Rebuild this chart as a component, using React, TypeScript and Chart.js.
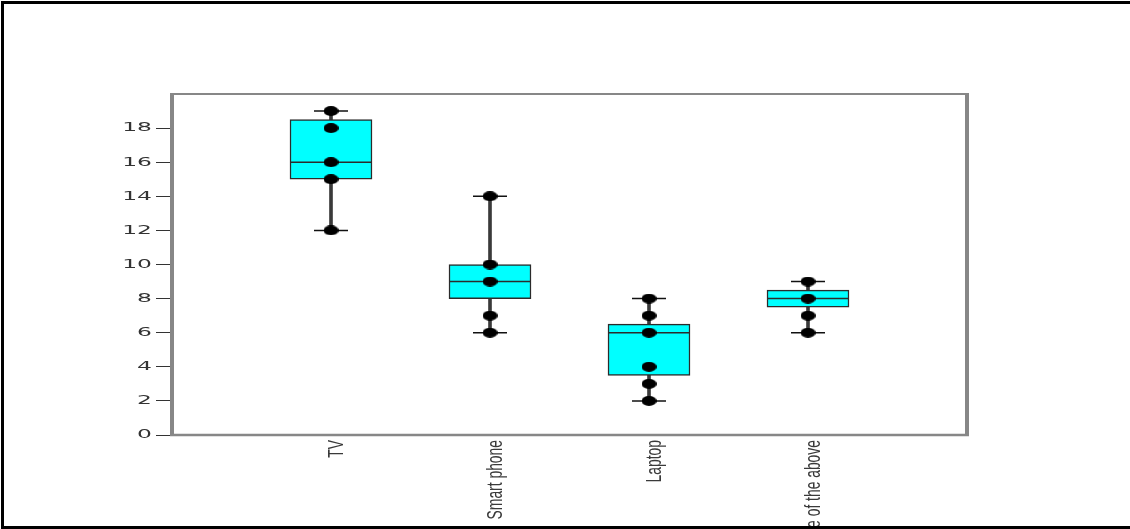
import React, { useEffect, useRef } from 'react';
import { Chart, registerables, LinearScale, CategoryScale } from 'chart.js';

// ---- data ----
const categories = ['TV', 'Smart phone', 'Laptop', 'None of the above'];
const xTickLabels = ['', 'TV', 'Smart phone', 'Laptop', 'None of the above', ''];
const q1Values = [15, 8, 3.5, 7.5];
const q3Values = [18.5, 10, 6.5, 8.5];
const medianValues = [16, 9, 6, 8];
const whiskerLow = [12, 6, 2, 6];
const whiskerHigh = [19, 14, 8, 9];
const tvPoints = [19, 18, 16, 15, 12];
const smartPhonePoints = [14, 10, 9, 7, 6];
const laptopPoints = [8, 7, 6, 4, 3, 2];
const noneOfAbovePoints = [9, 8, 7, 6];
const observations = [tvPoints, smartPhonePoints, laptopPoints, noneOfAbovePoints];
const yMin = 0;
const yMax = 20;
const yStep = 2;

const Y_LABEL_STRETCH = 1.8;
const X_LABEL_CONDENSE = 0.63;
const X_LABEL_SHIFT = 6;
const X_LABEL_DROP = 0;

class StretchedLinearScale extends LinearScale {
  drawLabels(chartArea: any) {
    const ctx = (this as any).ctx;
    const opts = (this as any).options;
    const tl = opts.grid.drawTicks ? opts.grid.tickLength : 0;
    const x0 = (this as any).right - tl - opts.ticks.padding;
    ctx.save();
    ctx.translate(x0, 0);
    ctx.scale(Y_LABEL_STRETCH, 1);
    ctx.translate(-x0, 0);
    super.drawLabels(chartArea);
    ctx.restore();
  }
}
(StretchedLinearScale as any).id = 'stretchedLinear';
(StretchedLinearScale as any).defaults = (LinearScale as any).defaults;

class CondensedCategoryScale extends CategoryScale {
  _computeLabelArea() {
    return undefined;
  }
  drawLabels(chartArea: any) {
    const ctx = (this as any).ctx;
    const y0 = (this as any).top;
    ctx.save();
    ctx.translate(X_LABEL_SHIFT, y0 + X_LABEL_DROP);
    ctx.scale(1, X_LABEL_CONDENSE);
    ctx.translate(0, -y0);
    super.drawLabels(chartArea);
    ctx.restore();
  }
}
(CondensedCategoryScale as any).id = 'condensedCategory';
(CondensedCategoryScale as any).defaults = (CategoryScale as any).defaults;

Chart.register(...registerables, StretchedLinearScale as any, CondensedCategoryScale as any);

const framePlugin = {
  id: 'plotFrame',
  beforeDatasetsDraw(chart: any) {
    const { ctx, chartArea: a } = chart;
    ctx.save();
    ctx.strokeStyle = '#878787';
    const seg = (x1: number, y1: number, x2: number, y2: number, w: number) => {
      ctx.lineWidth = w;
      ctx.beginPath();
      ctx.moveTo(x1, y1);
      ctx.lineTo(x2, y2);
      ctx.stroke();
    };
    seg(a.left - 2, a.top, a.right + 2, a.top, 2);
    seg(a.left - 2, a.bottom, a.right + 2, a.bottom, 2.5);
    seg(a.left, a.top - 1, a.left, a.bottom + 1, 4);
    seg(a.right, a.top - 1, a.right, a.bottom + 1, 4);
    ctx.restore();
  },
};

export default function App() {
  const canvasRef = useRef<HTMLCanvasElement | null>(null);

  useEffect(() => {
    const canvas = canvasRef.current;
    if (!canvas) return;

    const dot = document.createElement('canvas');
    dot.width = 15;
    dot.height = 10;
    const dctx = dot.getContext('2d')!;
    dctx.fillStyle = '#000';
    dctx.beginPath();
    dctx.ellipse(7.5, 5, 7.5, 5, 0, 0, Math.PI * 2);
    dctx.fill();

    const pad = (arr: any[]) => [null, ...arr, null];

    const pointData: { x: string; y: number }[] = [];
    observations.forEach((vals, i) => vals.forEach((v) => pointData.push({ x: categories[i], y: v })));
    const medianData = categories.map((c, i) => ({ x: c, y: medianValues[i] }));
    const capData: { x: string; y: number }[] = [];
    categories.forEach((c, i) => {
      capData.push({ x: c, y: whiskerLow[i] });
      capData.push({ x: c, y: whiskerHigh[i] });
    });

    const chart = new Chart(canvas, {
      type: 'bar',
      data: {
        labels: xTickLabels,
        datasets: [
          {
            type: 'bar',
            data: pad(categories.map((_, i) => [whiskerLow[i], whiskerHigh[i]])),
            backgroundColor: '#3a3a3a',
            borderWidth: 0,
            barThickness: 3,
            grouped: false,
            order: 4,
          } as any,
          {
            type: 'bar',
            data: pad(categories.map((_, i) => [q1Values[i], q3Values[i]])),
            backgroundColor: '#00ffff',
            borderColor: '#2b2b2b',
            borderWidth: 1.5,
            borderSkipped: false,
            barThickness: 82,
            grouped: false,
            order: 3,
          } as any,
          {
            type: 'line',
            data: medianData,
            showLine: false,
            pointStyle: 'line',
            pointRadius: 41,
            pointHoverRadius: 41,
            pointBorderWidth: 1.5,
            pointBorderColor: '#2b2b2b',
            order: 2,
          } as any,
          {
            type: 'line',
            data: capData,
            showLine: false,
            pointStyle: 'line',
            pointRadius: 17,
            pointHoverRadius: 17,
            pointBorderWidth: 1.5,
            pointBorderColor: '#111',
            order: 1,
          } as any,
          {
            type: 'line',
            data: pointData,
            showLine: false,
            pointStyle: dot,
            pointRadius: 7,
            pointHoverRadius: 7,
            order: 0,
          } as any,
        ],
      },
      options: {
        responsive: false,
        maintainAspectRatio: false,
        devicePixelRatio: 1,
        animation: false,
        events: [],
        layout: { padding: { top: 94, right: 163, left: 0, bottom: 0 } },
        plugins: {
          legend: { display: false },
          tooltip: { enabled: false },
          title: { display: false },
        },
        scales: {
          x: {
            type: 'condensedCategory' as any,
            offset: false,
            grid: { display: false, offset: false },
            border: { display: false },
            ticks: {
              autoSkip: false,
              minRotation: 90,
              maxRotation: 90,
              padding: 0,
              color: '#3a3a3a',
              font: { family: "'Liberation Sans', Arial, sans-serif", size: 22 },
            },
            afterFit: (s: any) => {
              s.height = 94;
            },
          } as any,
          y: {
            type: 'stretchedLinear' as any,
            min: yMin,
            max: yMax,
            border: { display: false },
            grid: {
              drawOnChartArea: false,
              drawTicks: true,
              tickLength: 16,
              lineWidth: 1,
              color: (c: any) => (c.tick && c.tick.value === yMax ? 'rgba(0,0,0,0)' : '#333'),
            },
            ticks: {
              stepSize: yStep,
              padding: 4,
              color: '#333',
              font: { family: "'DejaVu Sans', sans-serif", size: 13 },
              callback: (v: any) => (v === yMax ? '' : String(v)),
            },
            afterFit: (s: any) => {
              s.width = 172;
            },
          } as any,
        },
      },
      plugins: [framePlugin],
    });

    return () => chart.destroy();
  }, []);

  return (
    <div style={{ position: 'fixed', left: 0, top: 0, width: 1130, height: 529, background: '#fff', overflow: 'hidden' }}>
      <canvas ref={canvasRef} width={1130} height={529} style={{ display: 'block', width: 1130, height: 529 }} />
      <div
        style={{
          position: 'absolute',
          left: 1,
          top: 1,
          width: 1129,
          height: 528,
          boxSizing: 'border-box',
          borderTop: '3px solid #000',
          borderLeft: '3px solid #000',
          borderBottom: '3px solid #000',
          pointerEvents: 'none',
        }}
      />
    </div>
  );
}
